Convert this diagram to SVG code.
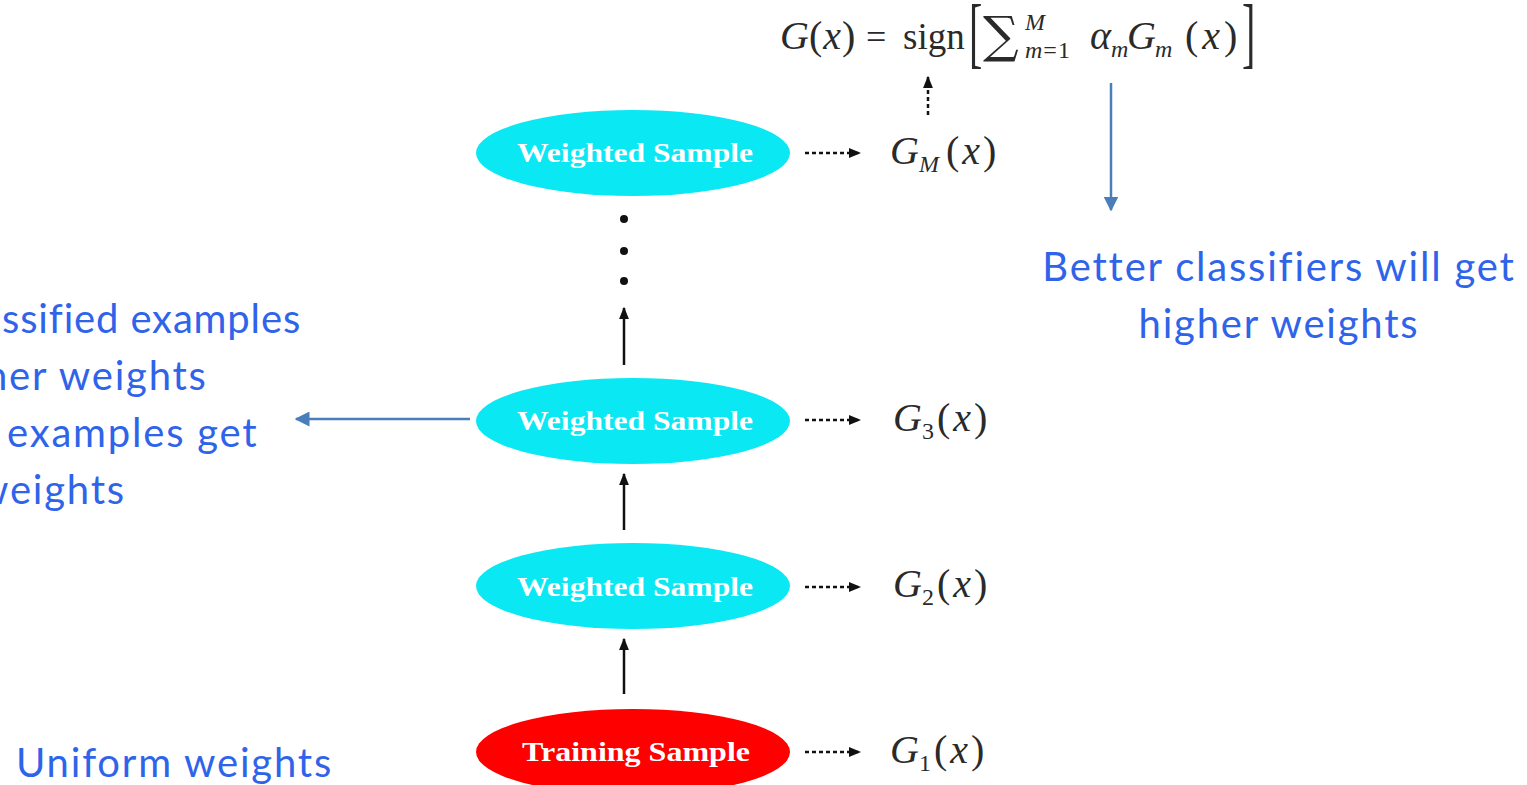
<svg xmlns="http://www.w3.org/2000/svg" width="1527" height="785" viewBox="0 0 1527 785">
  <style>
    .node-text { font-family: "Liberation Serif", "Times New Roman", serif; font-weight: bold; font-size: 28px; fill: #ffffff; }
    .math { font-family: "Liberation Serif", "DejaVu Serif", serif; fill: #2a2a2a; }
    .it { font-style: italic; }
    .paren { letter-spacing: 3px; }
    .note { font-family: Lato, "Open Sans", sans-serif; font-size: 40px; letter-spacing: 1.8px; fill: #2f64ea; }
    .flow { stroke: #111; stroke-width: 2.5; fill: none; }
    .dash { stroke: #111; stroke-width: 2.5; fill: none; stroke-dasharray: 4 3; }
    .blue { stroke: #4a7ebb; stroke-width: 2.5; fill: none; }
    .cyan { fill: #0ae8f4; }
    .red { fill: #ff0000; }
  </style>
  <defs>
    <marker id="blackHead" viewBox="0 0 10 10" refX="9" refY="5" markerWidth="5" markerHeight="5" orient="auto" markerUnits="strokeWidth">
      <path d="M0,1 L10,5 L0,9 Z" fill="#111"/>
    </marker>
    <marker id="blueHead" viewBox="0 0 10 10" refX="9" refY="5" markerWidth="6" markerHeight="6" orient="auto" markerUnits="strokeWidth">
      <path d="M0,0 L10,5 L0,10 Z" fill="#4a7ebb"/>
    </marker>
  </defs>

  <!-- combined classifier: G(x) = sign[ sum alpha_m G_m(x) ] -->
  <g id="formula" class="math">
    <text x="780" y="49" font-size="40"><tspan class="it">G</tspan><tspan letter-spacing="1">(<tspan class="it">x</tspan>)</tspan></text>
    <text x="866" y="49" font-size="36">=</text>
    <text x="903" y="49" font-size="37">sign</text>
    <text transform="translate(969,59) scale(1,1.95)" font-size="40">[</text>
    <text x="983" y="52" font-size="50" font-family="DejaVu Serif, serif">∑</text>
    <text x="1025" y="30" font-size="24" class="it">M</text>
    <text x="1025" y="58" font-size="24" letter-spacing="1"><tspan class="it">m</tspan>=1</text>
    <text x="1090" y="49" font-size="40" class="it">α</text>
    <text x="1111" y="57" font-size="24" class="it">m</text>
    <text x="1127" y="49" font-size="40" class="it">G</text>
    <text x="1155" y="57" font-size="24" class="it">m</text>
    <text x="1185" y="49" font-size="40" letter-spacing="4">(<tspan class="it">x</tspan>)</text>
    <text transform="translate(1242,59) scale(1,1.95)" font-size="40">]</text>
  </g>

  <!-- sample nodes -->
  <g id="node-weighted-m">
    <ellipse class="cyan" cx="633" cy="153" rx="157" ry="43"/>
    <text class="node-text" x="635" y="162" text-anchor="middle" textLength="236" lengthAdjust="spacingAndGlyphs">Weighted  Sample</text>
  </g>
  <g id="node-weighted-3">
    <ellipse class="cyan" cx="633" cy="421" rx="157" ry="43"/>
    <text class="node-text" x="635" y="430" text-anchor="middle" textLength="236" lengthAdjust="spacingAndGlyphs">Weighted  Sample</text>
  </g>
  <g id="node-weighted-2">
    <ellipse class="cyan" cx="633" cy="586" rx="157" ry="43"/>
    <text class="node-text" x="635" y="596" text-anchor="middle" textLength="236" lengthAdjust="spacingAndGlyphs">Weighted  Sample</text>
  </g>
  <g id="node-training">
    <ellipse class="red" cx="633" cy="752" rx="157" ry="43"/>
    <text class="node-text" x="636" y="761" text-anchor="middle" textLength="228" lengthAdjust="spacingAndGlyphs">Training  Sample</text>
  </g>

  <!-- weak classifier outputs -->
  <g id="label-gm" class="math">
    <text x="890" y="164" font-size="40" class="it">G</text>
    <text x="919" y="172" font-size="24" class="it">M</text>
    <text x="946" y="164" font-size="40" class="paren">(<tspan class="it">x</tspan>)</text>
  </g>
  <g id="label-g3" class="math">
    <text x="893" y="431" font-size="40" class="it">G</text>
    <text x="922" y="439" font-size="24">3</text>
    <text x="937" y="431" font-size="40" class="paren">(<tspan class="it">x</tspan>)</text>
  </g>
  <g id="label-g2" class="math">
    <text x="893" y="597" font-size="40" class="it">G</text>
    <text x="922" y="605" font-size="24">2</text>
    <text x="937" y="597" font-size="40" class="paren">(<tspan class="it">x</tspan>)</text>
  </g>
  <g id="label-g1" class="math">
    <text x="890" y="763" font-size="40" class="it">G</text>
    <text x="919" y="771" font-size="24">1</text>
    <text x="934" y="763" font-size="40" class="paren">(<tspan class="it">x</tspan>)</text>
  </g>

  <!-- ellipsis between stages -->
  <g id="ellipsis" fill="#111">
    <circle cx="624" cy="219" r="4"/>
    <circle cx="624" cy="251" r="4"/>
    <circle cx="624" cy="281" r="4"/>
  </g>

  <!-- connectors -->
  <g id="connectors">
    <line class="flow" x1="624" y1="365" x2="624" y2="308" marker-end="url(#blackHead)"/>
    <line class="flow" x1="624" y1="530" x2="624" y2="474" marker-end="url(#blackHead)"/>
    <line class="flow" x1="624" y1="694" x2="624" y2="639" marker-end="url(#blackHead)"/>

    <line class="dash" x1="805" y1="153" x2="860" y2="153" marker-end="url(#blackHead)"/>
    <line class="dash" x1="805" y1="420" x2="860" y2="420" marker-end="url(#blackHead)"/>
    <line class="dash" x1="805" y1="587" x2="860" y2="587" marker-end="url(#blackHead)"/>
    <line class="dash" x1="805" y1="752" x2="860" y2="752" marker-end="url(#blackHead)"/>

    <line class="dash" x1="928" y1="115" x2="928" y2="77" stroke-dasharray="3 5" marker-end="url(#blackHead)"/>

    <line class="blue" x1="1111" y1="83" x2="1111" y2="210" marker-end="url(#blueHead)"/>
    <line class="blue" x1="470" y1="419" x2="296" y2="419" marker-end="url(#blueHead)"/>
  </g>

  <!-- annotations -->
  <g id="note-left" class="note">
    <text x="2" y="333" textLength="300" lengthAdjust="spacing">ssified examples</text>
    <text x="-15" y="390">her weights</text>
    <text x="7" y="447">examples get</text>
    <text x="-23" y="504">weights</text>
  </g>
  <g id="note-right" class="note" text-anchor="middle">
    <text x="1279" y="281">Better classifiers will get</text>
    <text x="1279" y="338">higher weights</text>
  </g>
  <g id="note-bottom" class="note">
    <text x="16" y="777">Uniform weights</text>
  </g>
</svg>
